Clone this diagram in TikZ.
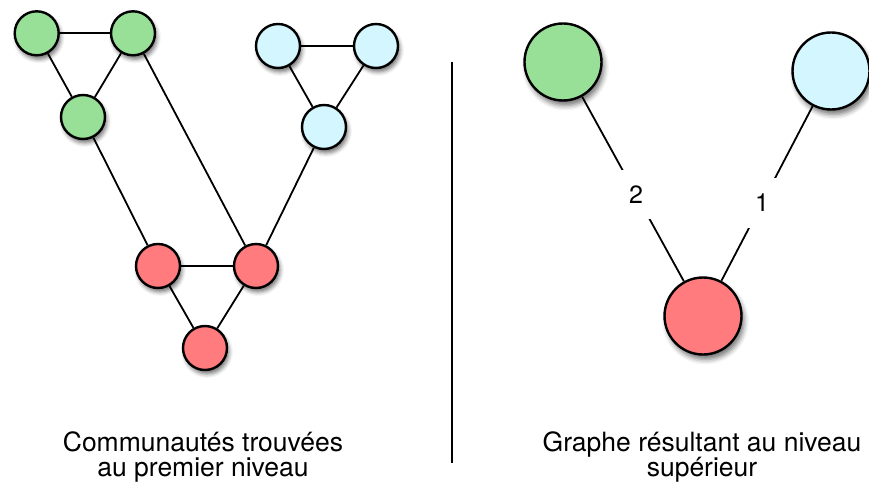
\documentclass[tikz,border=0pt]{standalone}
\usepackage{fontspec}
\setmainfont{TeX Gyre Heros}
\usetikzlibrary{shadows.blur}
\definecolor{cgreen}{RGB}{152,224,152}
\definecolor{ccyan}{RGB}{212,246,254}
\definecolor{cred}{RGB}{255,123,125}
\tikzset{
  vsmall/.style={circle, draw=black, line width=2.4pt, minimum size=44pt, inner sep=0pt,
    blur shadow={shadow xshift=2pt, shadow yshift=-4pt, shadow blur radius=4pt, shadow opacity=55}},
  vbig/.style={circle, draw=black, line width=2.4pt, minimum size=77pt, inner sep=0pt,
    blur shadow={shadow xshift=2.5pt, shadow yshift=-5pt, shadow blur radius=5pt, shadow opacity=55}},
  edge/.style={line width=1.8pt, black},
  lbl/.style={font=\fontsize{25}{28}\selectfont, fill=white, inner xsep=12pt, inner ysep=16pt},
  caption/.style={font=\fontsize{26.5}{25.5}\selectfont, anchor=base, inner sep=0pt}
}
\begin{document}
\begin{tikzpicture}[x=1pt,y=-1pt]
\useasboundingbox (0,0) rectangle (869,484);
% left graph nodes
\node[vsmall, fill=cgreen] (g1) at (36.7,33.3) {};
\node[vsmall, fill=cgreen] (g2) at (133,33.3) {};
\node[vsmall, fill=cgreen] (g3) at (83,117) {};
\node[vsmall, fill=ccyan] (c1) at (278,46) {};
\node[vsmall, fill=ccyan] (c2) at (376,46) {};
\node[vsmall, fill=ccyan] (c3) at (324,127) {};
\node[vsmall, fill=cred] (r1) at (158,266) {};
\node[vsmall, fill=cred] (r2) at (256,266) {};
\node[vsmall, fill=cred] (r3) at (205,348) {};
% left graph edges
\draw[edge] (g1) -- (g2);
\draw[edge] (g1) -- (g3);
\draw[edge] (g2) -- (g3);
\draw[edge] (c1) -- (c2);
\draw[edge] (c1) -- (c3);
\draw[edge] (c2) -- (c3);
\draw[edge] (r1) -- (r2);
\draw[edge] (r1) -- (r3);
\draw[edge] (r2) -- (r3);
\draw[edge] (g3) -- (r1);
\draw[edge] (g2) -- (r2);
\draw[edge] (c3) -- (r2);
% separator
\coordinate (s1) at (452,62);
\coordinate (s2) at (452,463);
\draw[line width=1.8pt] (s1) -- (s2);
% right graph
\node[vbig, fill=cgreen] (G) at (563,62) {};
\node[vbig, fill=ccyan] (C) at (831,71) {};
\node[vbig, fill=cred] (R) at (703,316) {};
\draw[edge] (G) -- node[lbl, pos=0.53] {2} (R);
\draw[edge] (C) -- node[lbl, pos=0.555] {1} (R);
% captions
\node[caption] (t1a) at (203,451) {Communautés trouvées};
\node[caption] (t1b) at (203,476) {au premier niveau};
\node[caption] (t2a) at (702,451) {Graphe résultant au niveau};
\node[caption] (t2b) at (702,476.5) {supérieur};
\end{tikzpicture}
\end{document}
